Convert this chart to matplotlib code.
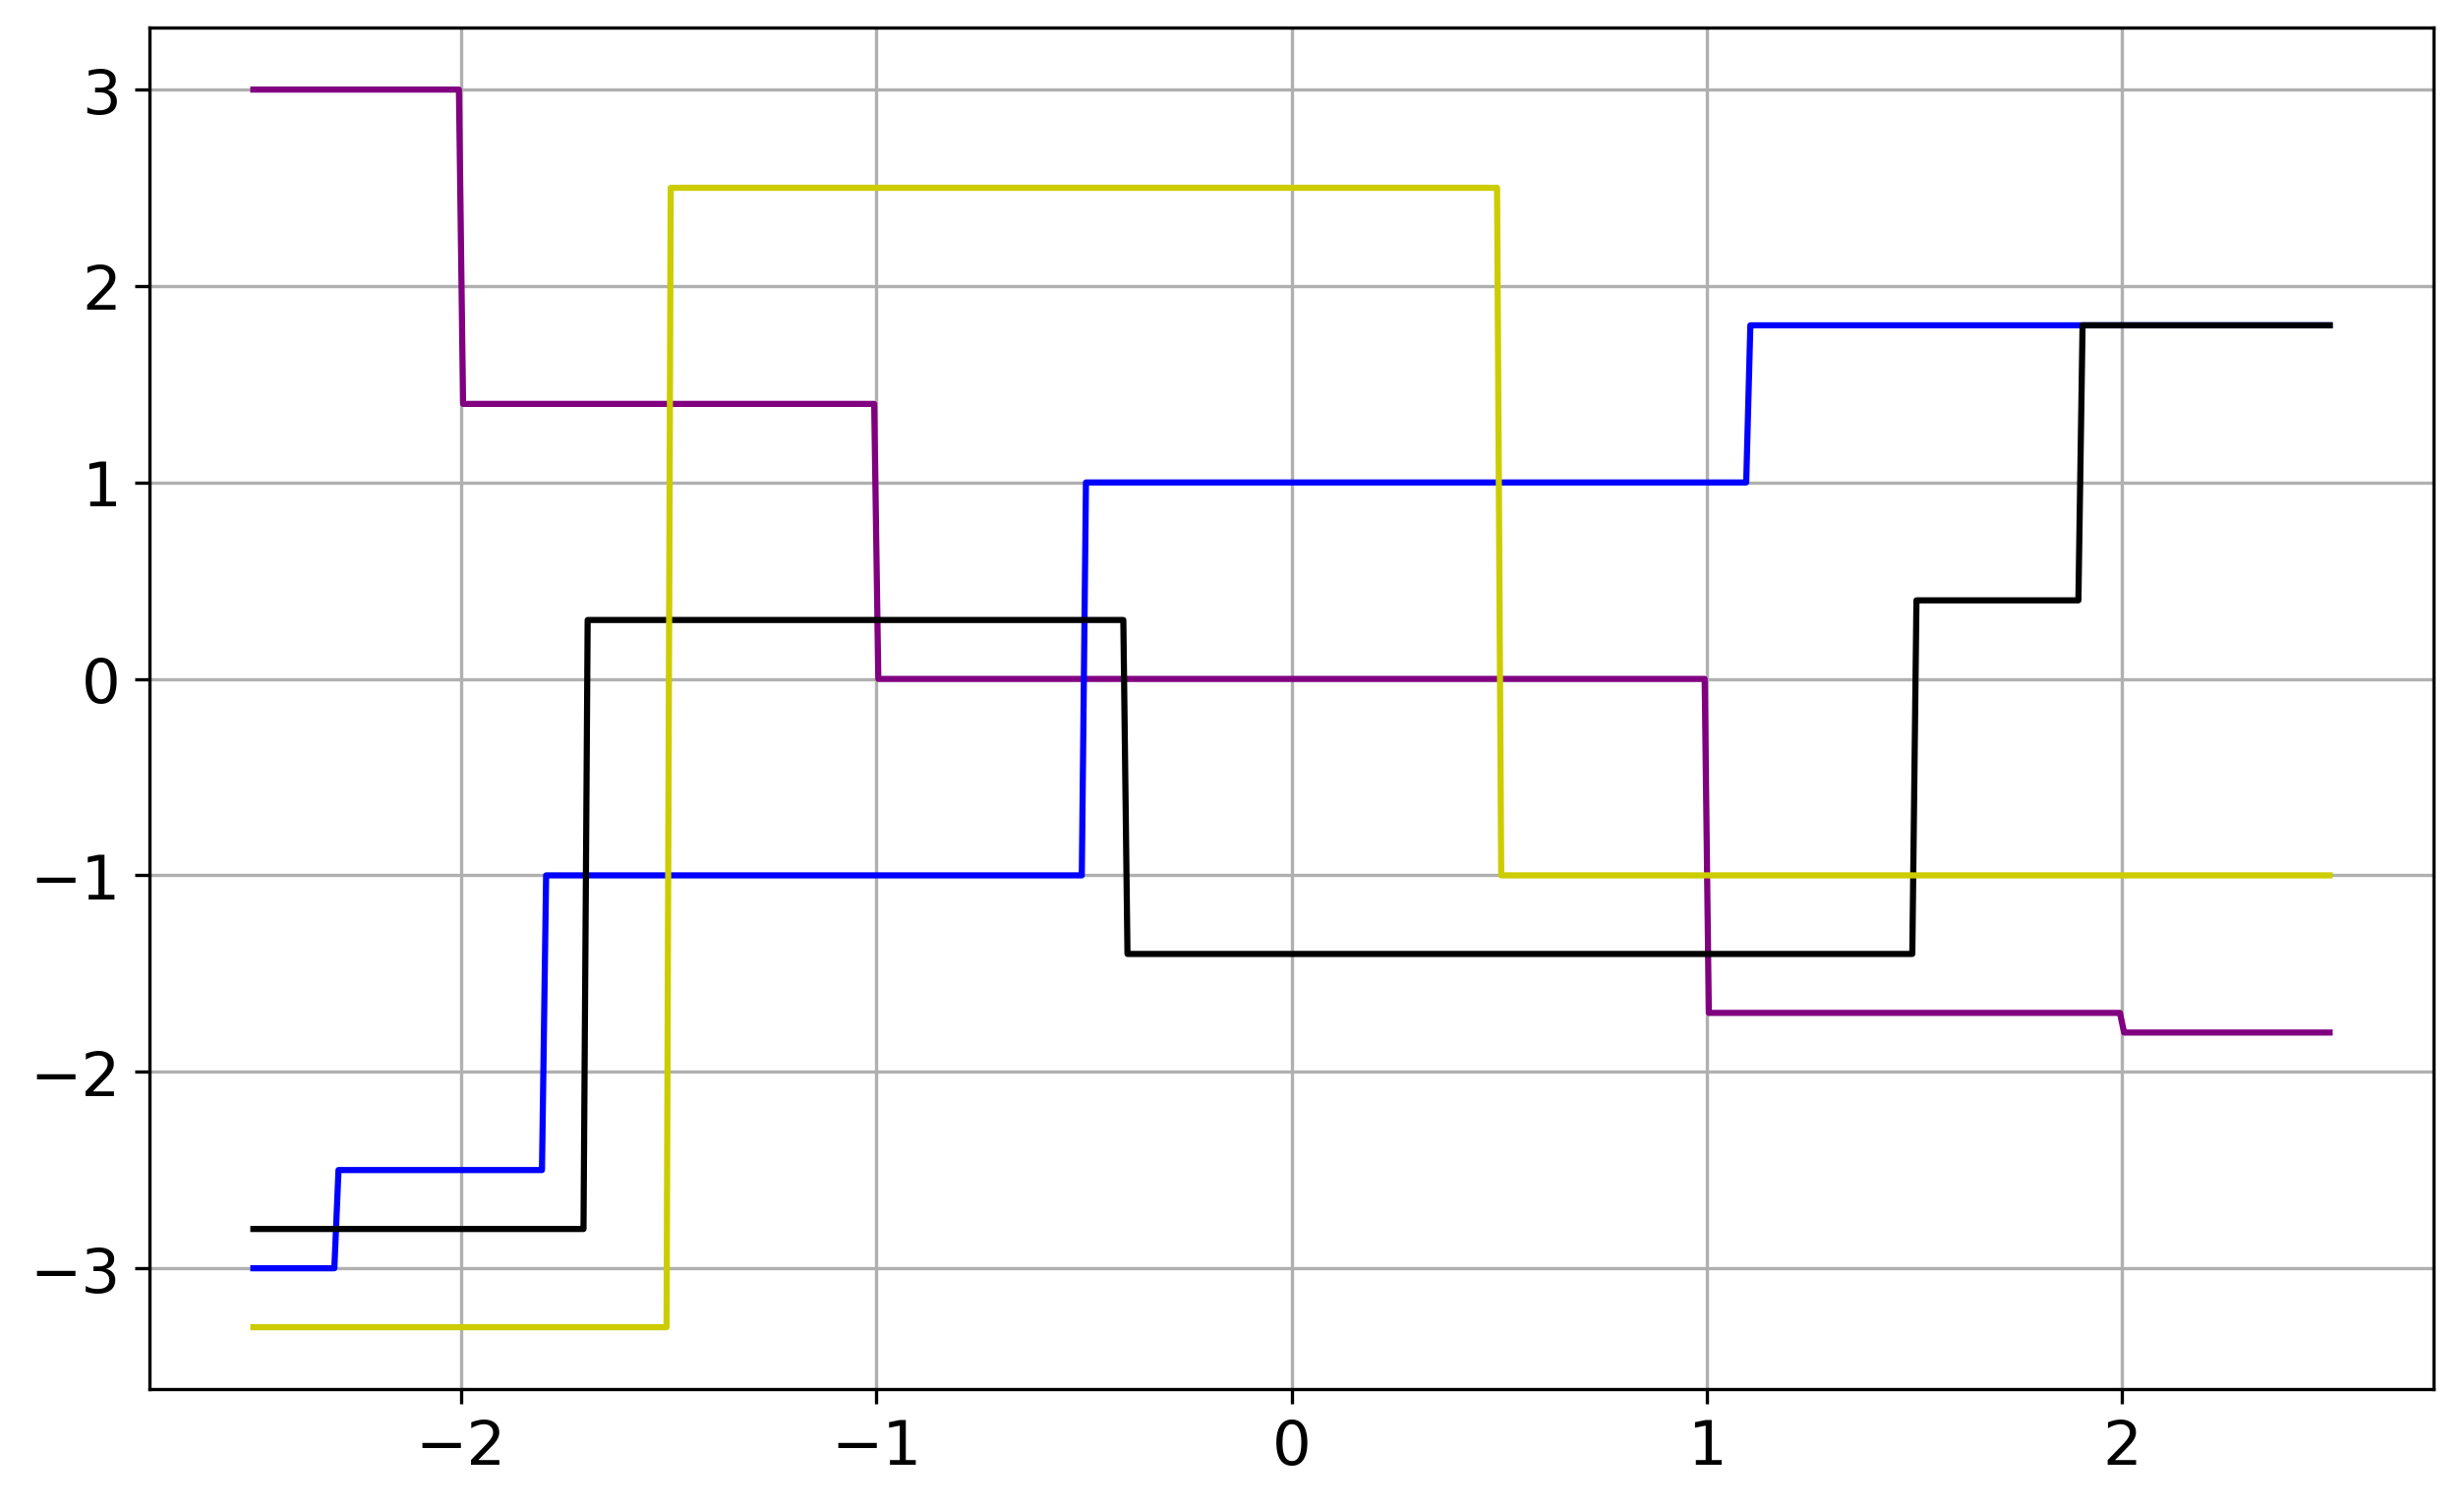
import numpy as np
import matplotlib
matplotlib.use("Agg")
import matplotlib.pyplot as plt

# Step series: break positions and the level held on each piece
x_start, x_end = -2.5, 2.5

purple_breaks = [-2.0, -1.0, 1.0, 2.0]
purple_levels = [3.0, 1.4, 0.0, -1.7, -1.8]

blue_breaks = [-2.3, -1.8, -0.5, 1.1]
blue_levels = [-3.0, -2.5, -1.0, 1.0, 1.8]

black_breaks = [-1.7, -0.4, 1.5, 1.9]
black_levels = [-2.8, 0.3, -1.4, 0.4, 1.8]

yellow_breaks = [-1.5, 0.5]
yellow_levels = [-3.3, 2.5, -1.0]

# the curves were sampled on a ~0.01 grid, so each jump is slightly slanted
half_step = 0.005


def step_vertices(breaks, levels):
    xs, ys = [x_start], [levels[0]]
    for b, lo, hi in zip(breaks, levels[:-1], levels[1:]):
        xs += [b - half_step, b + half_step]
        ys += [lo, hi]
    xs.append(x_end)
    ys.append(levels[-1])
    return xs, ys


fig = plt.figure(figsize=(2506 / 300, 1535 / 300), dpi=300)
ax = fig.add_subplot(111)
fig.subplots_adjust(left=0.0607, right=0.9876, bottom=0.0788, top=0.981)

ax.plot(*step_vertices(purple_breaks, purple_levels), color="purple", lw=1.5)
ax.plot(*step_vertices(blue_breaks, blue_levels), color="blue", lw=1.5)
ax.plot(*step_vertices(black_breaks, black_levels), color="black", lw=1.5)
ax.plot(*step_vertices(yellow_breaks, yellow_levels), color="#cccc00", lw=1.5)

ax.set_xticks([-2, -1, 0, 1, 2])
ax.set_yticks([-3, -2, -1, 0, 1, 2, 3])
ax.tick_params(labelsize=15)
ax.grid(True)

fig.savefig("out.png", dpi=300)
